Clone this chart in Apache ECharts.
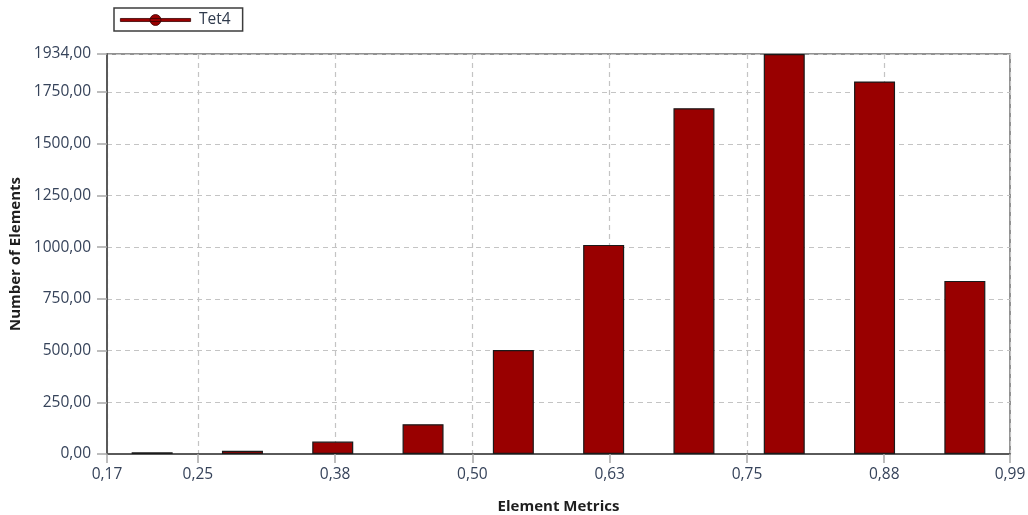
<!DOCTYPE html>
<html>
<head>
<meta charset="utf-8">
<title>Element Metrics</title>
<script src="https://cdn.jsdelivr.net/npm/echarts@6/dist/echarts.min.js"></script>
<style>
  html, body { margin: 0; padding: 0; background: #fff; }
  #chart { width: 1028px; height: 515px; }
</style>
</head>
<body>
<div id="chart"></div>
<script>
// Histogram range (element quality min / max) and bin counts
const metricMin = 0.1673;
const metricMax = 0.9895;
const binCounts = [8, 16, 60, 144, 503, 1011, 1672, 1934, 1801, 837];

// Axis tick positions
const xTickValues = [0.1673, 0.25, 0.375, 0.5, 0.625, 0.75, 0.875, 0.9895];
const yTickValues = [0, 250, 500, 750, 1000, 1250, 1500, 1750, 1934];

const seriesName = 'Tet4';
const xAxisTitle = 'Element Metrics';
const yAxisTitle = 'Number of Elements';

// Bars sit at the centre of each equal-width bin
const binWidth = (metricMax - metricMin) / binCounts.length;
const barData = binCounts.map((c, i) => [metricMin + (i + 0.5) * binWidth, c]);

const fmt = v => v.toFixed(2).replace('.', ',');
const labelFont = { fontFamily: 'Open Sans', fontSize: 15.5, color: '#36435a' };
const gridLine = { show: true, lineStyle: { color: '#c4c4c4', type: [5, 4], width: 1.2 } };

const chart = echarts.init(document.getElementById('chart'), null, { renderer: 'canvas' });
chart.setOption({
  animation: false,
  backgroundColor: '#ffffff',
  grid: {
    left: 107, right: 18, top: 54, bottom: 61,
    containLabel: false, outerBoundsMode: 'none',
    show: true, borderColor: '#6e6e6e', borderWidth: 1.5, backgroundColor: 'transparent'
  },
  legend: {
    left: 114, top: 8,
    data: [seriesName],
    backgroundColor: '#ffffff',
    borderColor: '#3c3c3c', borderWidth: 1.5, borderRadius: 0,
    padding: [4, 12, 3, 6],
    itemWidth: 77, itemHeight: 11, itemGap: 6,
    // line with a round marker, both filled (clockwise sub-paths)
    icon: 'path://M0,4.2 h60 v2.6 h-60 Z M25.3,5.5 a4.7,4.7 0 1,1 9.4,0 a4.7,4.7 0 1,1 -9.4,0 Z',
    itemStyle: { color: '#990000', borderColor: '#3a0000', borderWidth: 0.8 },
    textStyle: { fontFamily: 'Open Sans', fontSize: 15.5, color: '#2f3a4c', padding: [0, 0, 0, 0] }
  },
  xAxis: {
    type: 'value',
    min: metricMin, max: metricMax,
    name: xAxisTitle,
    nameLocation: 'middle', nameGap: 45,
    nameTextStyle: { fontFamily: 'Open Sans', fontWeight: 'bold', fontSize: 15, color: '#1e1e1e' },
    axisLine: { show: true, onZero: false, lineStyle: { color: '#5a5a5a', width: 2 } },
    axisTick: { show: true, inside: false, length: 9, customValues: xTickValues, lineStyle: { color: '#a8a8a8', width: 1.5 } },
    axisLabel: { customValues: xTickValues, margin: 13, formatter: fmt, ...labelFont },
    splitLine: gridLine
  },
  yAxis: {
    type: 'value',
    min: 0, max: 1934,
    name: yAxisTitle,
    nameLocation: 'middle', nameGap: 84, nameRotate: 90,
    nameTextStyle: { fontFamily: 'Open Sans', fontWeight: 'bold', fontSize: 15, color: '#1e1e1e' },
    axisLine: { show: true, lineStyle: { color: '#5a5a5a', width: 2 } },
    axisTick: { show: true, inside: false, length: 10, customValues: yTickValues, lineStyle: { color: '#a8a8a8', width: 1.5 } },
    axisLabel: { customValues: yTickValues, margin: 16, formatter: fmt, ...labelFont },
    splitLine: gridLine
  },
  series: [{
    name: seriesName,
    type: 'bar',
    data: barData,
    barWidth: 41,
    itemStyle: { color: '#990000', borderColor: '#1a1a1a', borderWidth: 1.2 }
  }]
});
</script>
</body>
</html>
